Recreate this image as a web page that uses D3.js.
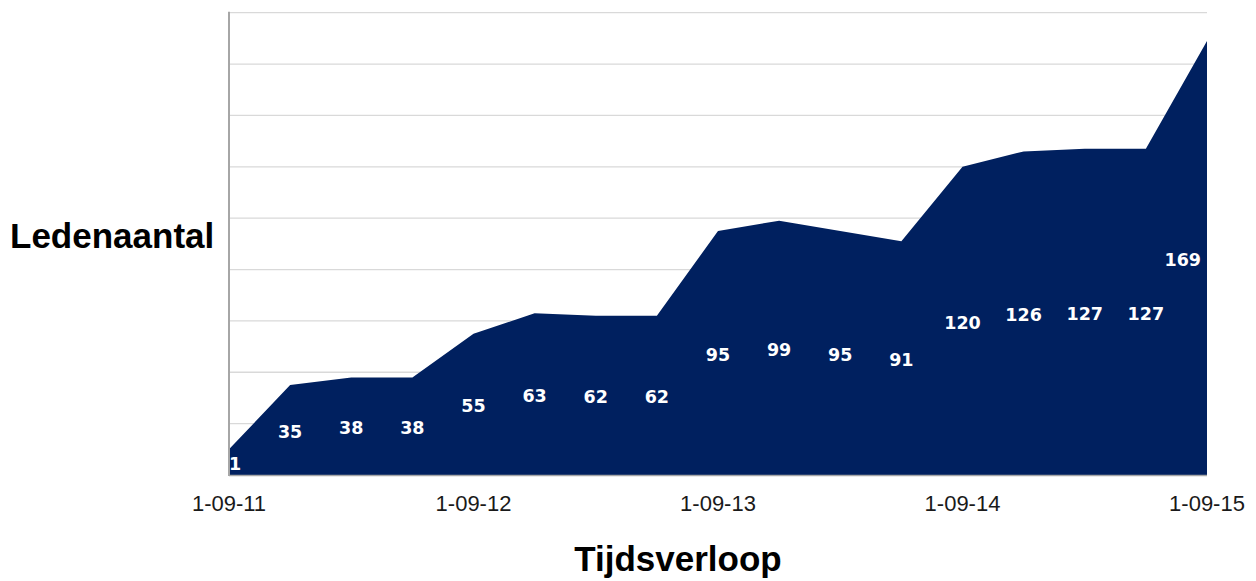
<!DOCTYPE html>
<html>
<head>
<meta charset="utf-8">
<script src="https://cdn.jsdelivr.net/npm/d3@7/dist/d3.min.js"></script>
<style>
  html, body { margin: 0; padding: 0; background: #ffffff; }
  svg { display: block; }
</style>
</head>
<body>
<svg id="chart" width="1256" height="581"></svg>
<script>
// ---- data ----
const dates = ["1-09-11","1-12-11","1-03-12","1-06-12","1-09-12","1-12-12","1-03-13","1-06-13",
               "1-09-13","1-12-13","1-03-14","1-06-14","1-09-14","1-12-14","1-03-15","1-06-15","1-09-15"];
const members = [10, 35, 38, 38, 55, 63, 62, 62, 95, 99, 95, 91, 120, 126, 127, 127, 169];
const dataLabels = ["1","35","38","38","55","63","62","62","95","99","95","91","120","126","127","127","169"];
const tickLabels = ["1-09-11","1-09-12","1-09-13","1-09-14","1-09-15"];
const yTicks = [0,20,40,60,80,100,120,140,160,180];

const svg = d3.select("#chart");
const plotLeft = 229, plotRight = 1207, plotTop = 12.7, plotBottom = 475;

const x = d3.scalePoint().domain(dates).range([plotLeft, plotRight]);
const y = d3.scaleLinear().domain([0, 180]).range([plotBottom, plotTop]);

// gridlines
svg.append("g").selectAll("line").data(yTicks).join("line")
  .attr("x1", plotLeft).attr("x2", plotRight)
  .attr("y1", d => y(d)).attr("y2", d => y(d))
  .attr("stroke", "#d9d9d9").attr("stroke-width", 1.3);

// area
const area = d3.area()
  .x((d, i) => x(dates[i]))
  .y0(y(0))
  .y1(d => y(d));
svg.append("path").datum(members)
  .attr("d", area)
  .attr("fill", "#00205f");

// axes lines
svg.append("line").attr("x1", plotLeft).attr("x2", plotLeft).attr("y1", plotTop - 1).attr("y2", plotBottom + 1)
  .attr("stroke", "#a6a6a6").attr("stroke-width", 2);
svg.append("line").attr("x1", plotLeft).attr("x2", plotRight).attr("y1", plotBottom + 0.5).attr("y2", plotBottom + 0.5)
  .attr("stroke", "#a6a6a6").attr("stroke-width", 1.5);

// x tick labels
const tickPos = dates.filter((d, i) => i % 4 === 0);
svg.append("g").selectAll("text").data(tickLabels).join("text")
  .attr("x", (d, i) => x(tickPos[i]))
  .attr("y", 511)
  .attr("text-anchor", "middle")
  .attr("font-family", "Liberation Sans, Arial, sans-serif")
  .attr("font-size", 22)
  .attr("fill", "#1a1a1a")
  .text(d => d);

// data labels (centered vertically within the area, kept inside plot)
const last = members.length - 1;
svg.append("g").selectAll("text").data(members).join("text")
  .attr("x", (d, i) => i === last ? x(dates[i]) - 6 : x(dates[i]))
  .attr("y", d => (y(d) + y(0)) / 2)
  .attr("dy", "0.45em")
  .attr("text-anchor", (d, i) => i === 0 ? "start" : (i === last ? "end" : "middle"))
  .attr("font-family", "DejaVu Sans, Verdana, sans-serif")
  .attr("font-weight", "bold")
  .attr("font-size", 17.5)
  .attr("fill", "#ffffff")
  .text((d, i) => dataLabels[i]);

// axis titles
svg.append("text")
  .attr("x", 10).attr("y", 248)
  .attr("font-family", "Liberation Sans, Arial, sans-serif")
  .attr("font-weight", "bold").attr("font-size", 35)
  .attr("fill", "#000")
  .text("Ledenaantal");
svg.append("text")
  .attr("x", 678).attr("y", 571)
  .attr("text-anchor", "middle")
  .attr("font-family", "Liberation Sans, Arial, sans-serif")
  .attr("font-weight", "bold").attr("font-size", 35)
  .attr("fill", "#000")
  .text("Tijdsverloop");
</script>
</body>
</html>
